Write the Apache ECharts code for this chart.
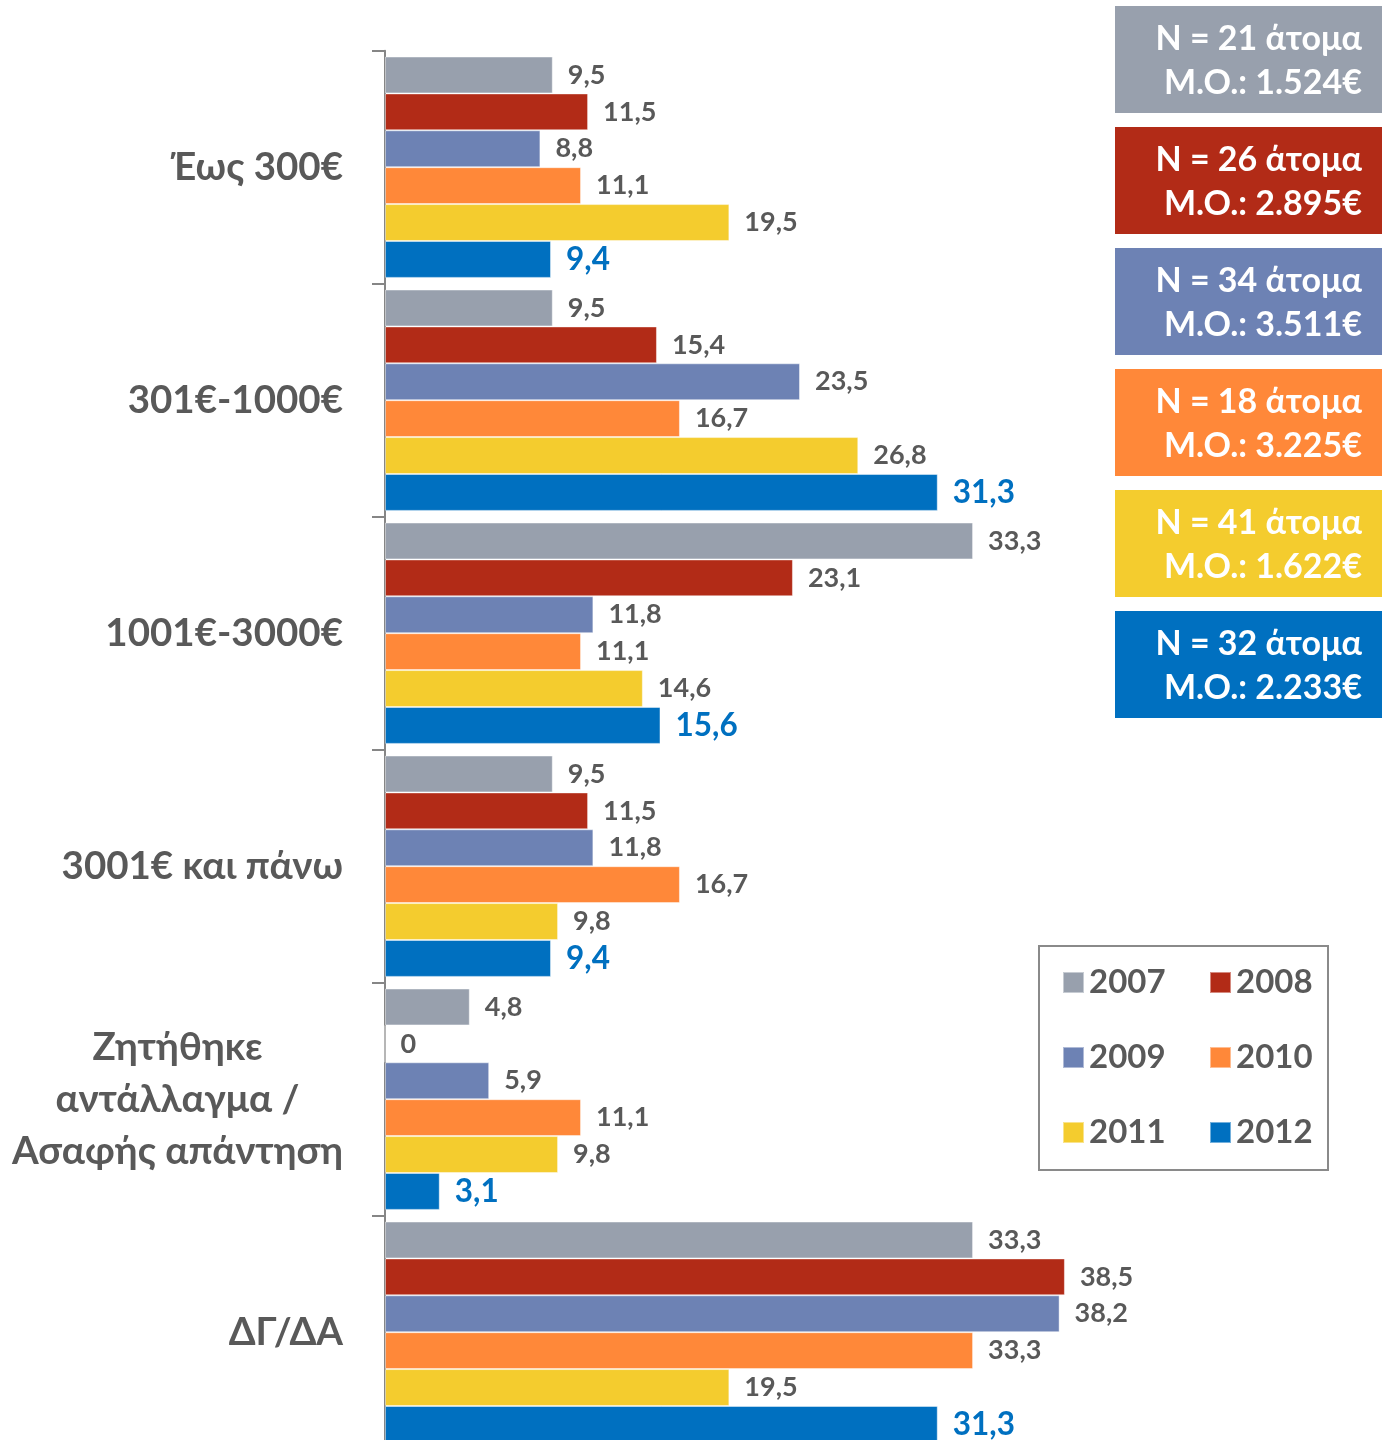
<!DOCTYPE html>
<html>
<head>
<meta charset="utf-8">
<script src="https://cdn.jsdelivr.net/npm/echarts@6/dist/echarts.min.js"></script>
<style>
  html, body { margin: 0; padding: 0; background: #fff; }
  #chart { width: 1389px; height: 1440px; }
</style>
</head>
<body>
<div id="chart"></div>
<script>
// Income bands (top to bottom)
const categories = [
  'Έως 300€',
  '301€-1000€',
  '1001€-3000€',
  '3001€ και πάνω',
  'Ζητήθηκε\nαντάλλαγμα /\nΑσαφής απάντηση',
  'ΔΓ/ΔΑ'
];

const years = ['2007', '2008', '2009', '2010', '2011', '2012'];

// Percentages per year, one value per income band
const values2007 = [9.5, 9.5, 33.3, 9.5, 4.8, 33.3];
const values2008 = [11.5, 15.4, 23.1, 11.5, 0, 38.5];
const values2009 = [8.8, 23.5, 11.8, 11.8, 5.9, 38.2];
const values2010 = [11.1, 16.7, 11.1, 16.7, 11.1, 33.3];
const values2011 = [19.5, 26.8, 14.6, 9.8, 9.8, 19.5];
const values2012 = [9.4, 31.3, 15.6, 9.4, 3.1, 31.3];

// Sample size and mean amount per year
const sampleSizes = [21, 26, 34, 18, 41, 32];
const meanAmounts = ['1.524€', '2.895€', '3.511€', '3.225€', '1.622€', '2.233€'];

const colors = ['#98A0AD', '#B22B17', '#6D82B4', '#FF8839', '#F4CC2E', '#0070C0'];
const seriesValues = [values2007, values2008, values2009, values2010, values2011, values2012];

const FONT = 'Lato, "Open Sans", "Noto Sans", sans-serif';
const GREY_TEXT = '#595959';

const chart = echarts.init(document.getElementById('chart'), null, { renderer: 'canvas' });

const fmt = v => String(v).replace('.', ',');

const series = years.map((y, i) => {
  const isLast = i === years.length - 1;
  return {
    name: y,
    type: 'bar',
    data: seriesValues[i],
    barGap: '0%',
    barCategoryGap: '5%',
    itemStyle: { color: colors[i], borderColor: 'rgba(255,255,255,0.45)', borderWidth: 1 },
    label: {
      show: true,
      position: 'right',
      distance: 15,
      formatter: p => fmt(p.value),
      fontFamily: FONT,
      fontWeight: 'bold',
      fontSize: isLast ? 31.5 : 27,
      color: isLast ? '#0070C0' : GREY_TEXT
    }
  };
});

// Summary boxes on the right, one per year
const boxTop0 = 6, boxStep = 121, boxH = 107;
const graphics = [];
years.forEach((y, i) => {
  const top = boxTop0 + i * boxStep;
  graphics.push({
    type: 'rect',
    shape: { x: 1115, y: top, width: 267, height: boxH },
    style: { fill: colors[i] },
    silent: true
  });
  graphics.push({
    type: 'text',
    x: 1362,
    y: top + boxH / 2 + 2,
    style: {
      text: 'N = ' + sampleSizes[i] + ' άτομα\nM.O.: ' + meanAmounts[i],
      fill: '#fff',
      font: 'bold 34px ' + FONT,
      align: 'right',
      verticalAlign: 'middle',
      lineHeight: 44
    },
    silent: true
  });
});

const option = {
  animation: false,
  backgroundColor: '#fff',
  color: colors,
  grid: {
    left: 385, top: 50.7, width: 706.4, height: 1398,
    containLabel: false,
    outerBoundsMode: 'none'
  },
  xAxis: {
    type: 'value',
    min: 0,
    max: 40,
    show: false
  },
  yAxis: {
    type: 'category',
    data: categories,
    inverse: true,
    axisLine: { show: true, lineStyle: { color: '#868686', width: 2 } },
    axisTick: { show: true, length: 13, lineStyle: { color: '#868686', width: 2 } },
    axisLabel: {
      margin: 42,
      formatter: v => v.split('\n').map(s => '{c|' + s + '}').join('\n'),
      rich: {
        c: {
          fontFamily: FONT,
          fontWeight: 'bold',
          fontSize: 38.5,
          color: GREY_TEXT,
          lineHeight: 52,
          align: 'center'
        }
      }
    },
    splitLine: { show: false }
  },
  legend: {
    data: years,
    left: 1039,
    top: 946,
    width: 262,
    orient: 'horizontal',
    itemWidth: 21,
    itemHeight: 21,
    itemGap: 40,
    padding: [19, 12, 20, 23],
    borderColor: '#8a8a8a',
    borderWidth: 2,
    icon: 'rect',
    textStyle: {
      fontFamily: FONT,
      fontWeight: 'bold',
      fontSize: 33,
      color: GREY_TEXT,
      width: 80,
      lineHeight: 35
    }
  },
  graphic: graphics,
  series: series
};

chart.setOption(option);
</script>
</body>
</html>
